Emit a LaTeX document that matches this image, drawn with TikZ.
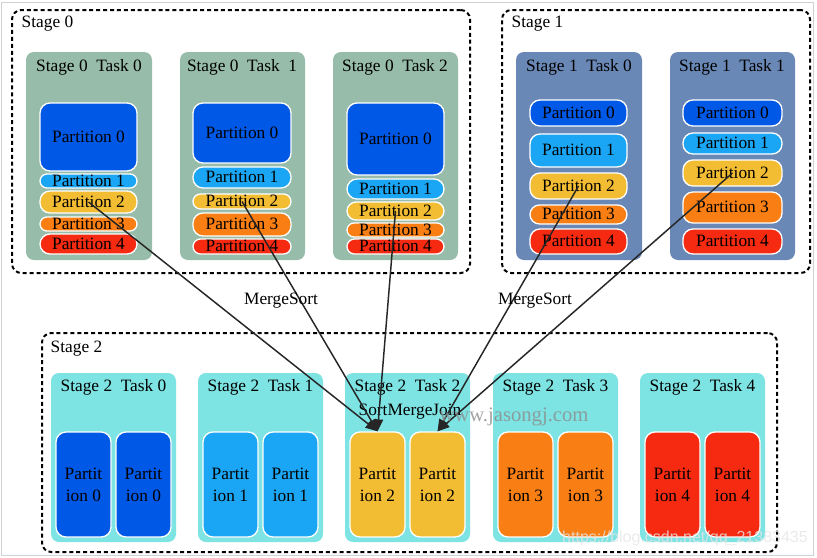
\documentclass[tikz,border=0pt]{standalone}
\usepackage{fontspec}
\setmainfont{Liberation Serif}
\newfontfamily\wmfont{Liberation Sans}
\usetikzlibrary{arrows.meta}
\definecolor{taskzero}{HTML}{97BCA9}
\definecolor{taskone}{HTML}{6A88B6}
\definecolor{tasktwo}{HTML}{7EE3E3}
\definecolor{pzero}{HTML}{0058E6}
\definecolor{pone}{HTML}{1AA6F4}
\definecolor{ptwo}{HTML}{F3BD33}
\definecolor{pthree}{HTML}{F97E14}
\definecolor{pfour}{HTML}{F62A11}
\newcommand{\areabox}[6]{%
  \pgfmathsetmacro{\bw}{(#5-#3)*0.75}%
  \pgfmathsetmacro{\bh}{(#6-#4)*0.75}%
  \node[#1, minimum width=\bw pt, minimum height=\bh pt] (#2) at ({(#3+#5)/2},{(#4+#6)/2}) {};}
\newcommand{\partbox}[7]{%
  \pgfmathsetmacro{\bw}{(#4-#2)*0.75}%
  \pgfmathsetmacro{\bh}{(#5-#3)*0.75}%
  \pgfmathsetmacro{\br}{min(7.5,\bh/2)}%
  \node[part, fill=#6, minimum width=\bw pt, minimum height=\bh pt, rounded corners=\br pt] (#1) at ({(#2+#4)/2},{(#3+#5)/2}) {#7};}

\begin{document}
\begin{tikzpicture}[x=0.75pt,y=-0.75pt,font=\fontsize{13}{16.5}\selectfont,
  stagebox/.style={draw=black, line width=1.5pt, dash pattern=on 3pt off 2.2pt, rounded corners=7pt, inner sep=0pt},
  taskbox/.style={rounded corners=6pt, inner sep=0pt},
  part/.style={draw=white, line width=1pt, inner sep=0pt, text height=8pt, text depth=0pt},
  colpart/.style={draw=white, line width=1pt, inner sep=0pt, align=center, rounded corners=7.5pt},
  flow/.style={-{Triangle[length=9pt,width=7pt]}, line width=1.1pt, draw=black!85}]
\useasboundingbox (0,0) rectangle (817,557);
\draw[black!18] (1,2) rectangle (813,555);

% stages
\areabox{stagebox}{stage0}{12}{10}{470}{273}
\areabox{stagebox}{stage1}{502}{10}{810}{273}
\areabox{stagebox}{stage2}{42}{333}{777}{552}
\node[anchor=west] (stage0label) at (17,24) {Stage 0};
\node[anchor=west] (stage1label) at (507,24) {Stage 1};
\node[anchor=west] (stage2label) at (46,349) {Stage 2};

% stage 0
\areabox{taskbox, fill=taskzero}{s0t0}{26}{52}{152}{260}
\areabox{taskbox, fill=taskzero}{s0t1}{180}{52}{305}{260}
\areabox{taskbox, fill=taskzero}{s0t2}{333}{52}{458}{260}
\node (s0t0title) at (89,67) {Stage 0\ \ Task 0};
\node (s0t1title) at (242,67) {Stage 0\ \ Task\ \ 1};
\node (s0t2title) at (395,67) {Stage 0\ \ Task 2};
\partbox{s0t0p0}{40}{103}{137}{171}{pzero}{Partition 0}
\partbox{s0t0p1}{40}{174}{137}{188}{pone}{Partition 1}
\partbox{s0t0p2}{40}{191}{137}{213}{ptwo}{Partition 2}
\partbox{s0t0p3}{40}{217}{137}{231}{pthree}{Partition 3}
\partbox{s0t0p4}{40}{234}{137}{254}{pfour}{Partition 4}
\partbox{s0t1p0}{193}{103}{291}{163}{pzero}{Partition 0}
\partbox{s0t1p1}{193}{167}{291}{188}{pone}{Partition 1}
\partbox{s0t1p2}{193}{194}{291}{209}{ptwo}{Partition 2}
\partbox{s0t1p3}{193}{213}{291}{236}{pthree}{Partition 3}
\partbox{s0t1p4}{193}{239}{291}{254}{pfour}{Partition 4}
\partbox{s0t2p0}{347}{103}{444}{175}{pzero}{Partition 0}
\partbox{s0t2p1}{347}{179}{444}{199}{pone}{Partition 1}
\partbox{s0t2p2}{347}{202}{444}{220}{ptwo}{Partition 2}
\partbox{s0t2p3}{347}{223}{444}{237}{pthree}{Partition 3}
\partbox{s0t2p4}{347}{239}{444}{254}{pfour}{Partition 4}

% stage 1
\areabox{taskbox, fill=taskone}{s1t0}{516}{52}{642}{260}
\areabox{taskbox, fill=taskone}{s1t1}{670}{52}{795}{260}
\node (s1t0title) at (579,67) {Stage 1\ \ Task 0};
\node (s1t1title) at (732,67) {Stage 1\ \ Task 1};
\partbox{s1t0p0}{530}{100}{627}{126}{pzero}{Partition 0}
\partbox{s1t0p1}{530}{134}{627}{167}{pone}{Partition 1}
\partbox{s1t0p2}{530}{173}{627}{199}{ptwo}{Partition 2}
\partbox{s1t0p3}{530}{205}{627}{224}{pthree}{Partition 3}
\partbox{s1t0p4}{530}{229}{627}{254}{pfour}{Partition 4}
\partbox{s1t1p0}{683}{100}{782}{126}{pzero}{Partition 0}
\partbox{s1t1p1}{683}{133}{782}{154}{pone}{Partition 1}
\partbox{s1t1p2}{683}{160}{782}{186}{ptwo}{Partition 2}
\partbox{s1t1p3}{683}{192}{782}{223}{pthree}{Partition 3}
\partbox{s1t1p4}{683}{229}{782}{254}{pfour}{Partition 4}

% stage 2
\foreach \i/\xa/\col in {0/51/pzero,1/198/pone,2/345/ptwo,3/493/pthree,4/640/pfour}{
  \areabox{taskbox, fill=tasktwo}{s2t\i}{\xa}{373}{\xa+125}{542}
  \node (s2t\i title) at (\xa+62.5,387) {Stage 2\ \ Task \i};
  \node[colpart, fill=\col, minimum width=41.25pt, minimum height=78.75pt] (s2t\i a) at (\xa+32.5,484.5) {Partit\\ion \i};
  \node[colpart, fill=\col, minimum width=41.25pt, minimum height=78.75pt] (s2t\i b) at (\xa+92.5,484.5) {Partit\\ion \i};
}
\node (sortmergejoin) at (410,412) {SortMergeJoin};

% shuffle
\draw[flow] (s0t0p2.center) -- (s2t2a.north);
\draw[flow] (s0t1p2.center) -- (s2t2a.north);
\draw[flow] (s0t2p2.center) -- (s2t2a.north);
\draw[flow] (s1t0p2.center) -- (s2t2b.north);
\draw[flow] (s1t1p2.center) -- (s2t2b.north);
\node (mergesort0) at (281,301) {MergeSort};
\node (mergesort1) at (535,301) {MergeSort};

\node[text=black!45, opacity=0.8, font=\fontsize{15.5}{16}\selectfont] (wmjason) at (514,417) {www.jasongj.com};
\node[text=black!10, opacity=0.8, font=\wmfont\fontsize{12}{12}\selectfont] (wmcsdn) at (685,538) {https://blog.csdn.net/qq\_21383435};
\end{tikzpicture}
\end{document}
